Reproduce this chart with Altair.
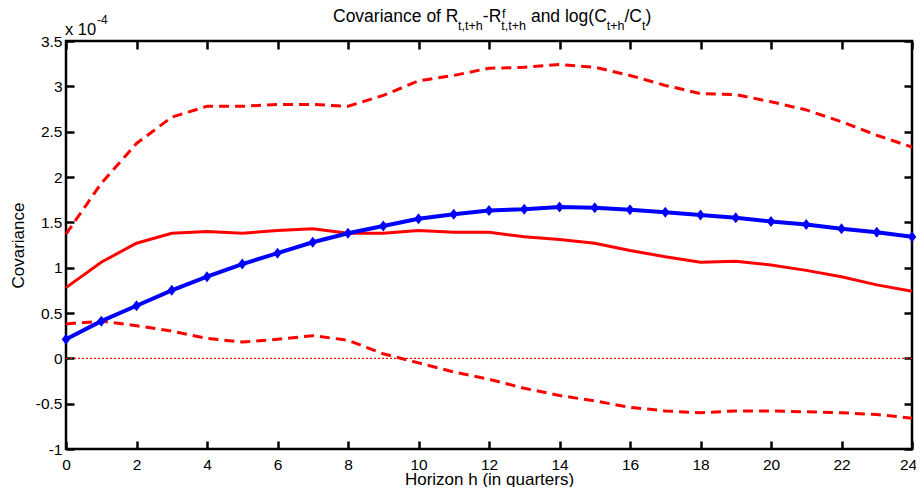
import altair as alt
import pandas as pd

# ---- data (covariance in units of 1e-4) ----
horizon = list(range(25))
model_cov = [0.21, 0.41, 0.58, 0.75, 0.90, 1.04, 1.16, 1.28, 1.38, 1.46, 1.54, 1.59, 1.63,
             1.645, 1.67, 1.66, 1.64, 1.61, 1.58, 1.55, 1.51, 1.475, 1.43, 1.39, 1.34]
data_cov = [0.78, 1.06, 1.27, 1.38, 1.40, 1.38, 1.41, 1.43, 1.38, 1.38, 1.41, 1.39, 1.39,
            1.34, 1.31, 1.27, 1.19, 1.12, 1.06, 1.07, 1.03, 0.97, 0.90, 0.81, 0.74]
upper_band = [1.37, 1.93, 2.37, 2.66, 2.78, 2.78, 2.80, 2.80, 2.78, 2.90, 3.06, 3.12, 3.20,
              3.21, 3.24, 3.21, 3.12, 3.01, 2.92, 2.91, 2.83, 2.74, 2.61, 2.46, 2.33]
lower_band = [0.38, 0.41, 0.36, 0.30, 0.22, 0.18, 0.21, 0.25, 0.20, 0.05, -0.05, -0.15, -0.23,
              -0.33, -0.41, -0.47, -0.54, -0.58, -0.60, -0.58, -0.58, -0.59, -0.60, -0.62, -0.66]
zero_line = [0.0] * len(horizon)

x_ticks = list(range(0, 25, 2))
y_ticks = [-1, -0.5, 0, 0.5, 1, 1.5, 2, 2.5, 3, 3.5]

FONT = "Liberation Sans"
W, H = 846, 408
LEFT, TOP = 58, 33          # plot area offset inside the svg
RED, BLUE = "#ff0000", "#0000ff"

xs = alt.Scale(domain=[0, 24], nice=False, zero=False)
ys = alt.Scale(domain=[-1, 3.5], nice=False, zero=False)


def frame(values):
    return pd.DataFrame({"h": horizon, "v": values})


def tick_axis(orient, offset, vals):
    return alt.Axis(orient=orient, offset=offset, values=vals, labels=False, title=None,
                    domain=False, grid=False, ticks=True, tickSize=8, tickWidth=2.5,
                    tickColor="black")


main_x = alt.Axis(orient="bottom", values=x_ticks, tickSize=0, domain=False, grid=False,
                  labelFont=FONT, labelFontSize=15.5, labelColor="black", labelPadding=8,
                  labelFlush=False, labelOverlap=False,
                  labelOffset={"condition": {"test": "datum.value == 24", "value": -4},
                               "value": 0},
                  title="Horizon h (in quarters)", titleFont=FONT, titleFontSize=17,
                  titleFontWeight="normal", titleColor="black", titleY=35,
                  titleBaseline="alphabetic")
main_y = alt.Axis(orient="left", values=y_ticks, tickSize=0, domain=False, grid=False,
                  labelFont=FONT, labelFontSize=15.5, labelColor="black", labelPadding=4,
                  labelExpr="'' + datum.value", labelOverlap=False, labelFlush=False,
                  title="Covariance", titleFont=FONT, titleFontSize=17,
                  titleFontWeight="normal", titleColor="black", titleAngle=270,
                  titleX=-43, titleY=H / 2, titleAlign="center", titleBaseline="alphabetic")

upper = alt.Chart(frame(upper_band)).mark_line(
    color=RED, strokeWidth=3, strokeDash=[10, 6], clip=False
).encode(x=alt.X("h:Q", scale=xs, axis=main_x), y=alt.Y("v:Q", scale=ys, axis=main_y))

lower = alt.Chart(frame(lower_band)).mark_line(
    color=RED, strokeWidth=3, strokeDash=[10, 6], clip=False
).encode(x=alt.X("h:Q", scale=xs, axis=tick_axis("top", -H, x_ticks)),
         y=alt.Y("v:Q", scale=ys, axis=tick_axis("right", -W, y_ticks)))

solid = alt.Chart(frame(data_cov)).mark_line(
    color=RED, strokeWidth=3, clip=False
).encode(x=alt.X("h:Q", scale=xs, axis=tick_axis("bottom", -H, x_ticks)),
         y=alt.Y("v:Q", scale=ys, axis=tick_axis("left", -W, y_ticks)))

zero = alt.Chart(frame(zero_line)).mark_line(
    color=RED, strokeWidth=1.3, strokeDash=[2, 2]
).encode(x=alt.X("h:Q", scale=xs, axis=None), y=alt.Y("v:Q", scale=ys, axis=None))

blue_line = alt.Chart(frame(model_cov)).mark_line(
    color=BLUE, strokeWidth=4, clip=False
).encode(x=alt.X("h:Q", scale=xs, axis=None), y=alt.Y("v:Q", scale=ys, axis=None))

blue_pts = alt.Chart(frame(model_cov)).mark_point(
    shape="M0,-1.1L0.85,0L0,1.1L-0.85,0Z", size=100, filled=True, color=BLUE,
    opacity=1, clip=False
).encode(x=alt.X("h:Q", scale=xs, axis=None), y=alt.Y("v:Q", scale=ys, axis=None))

# ---- title and exponent pieces: (text, font size, page x, page baseline y) ----
title_parts = [
    ("Covariance of R", 17.5, 333.0, 22.0),
    ("t,t+h", 12.5, 458.1, 29.5),
    ("-R", 17.5, 482.8, 22.0),
    ("f", 12.5, 502.0, 17.5),
    ("t,t+h", 12.5, 501.3, 29.5),
    ("and log(C", 17.5, 530.9, 22.0),
    ("t+h", 12.5, 606.7, 29.5),
    ("/C", 17.5, 624.4, 22.0),
    ("t", 12.5, 641.9, 29.5),
    (")", 17.5, 645.4, 22.0),
    ("x 10", 16.5, 65.0, 35.3),
    ("-4", 12, 97.0, 23.5),
]

texts = []
for txt, fs, px, py in title_parts:
    texts.append(
        alt.Chart(pd.DataFrame({"a": [0]})).mark_text(
            align="left", baseline="alphabetic", font=FONT, fontSize=fs, color="black"
        ).encode(x=alt.value(px - 8 - LEFT), y=alt.value(py - 8 - TOP), text=alt.value(txt))
    )

chart = alt.layer(
    upper, lower, solid, zero, blue_line, blue_pts, *texts
).resolve_axis(x="independent", y="independent").properties(
    width=W, height=H,
    autosize=alt.AutoSizeParams(type="none"),
    padding={"left": LEFT, "top": TOP, "right": 4, "bottom": 38},
    background="white",
).configure_view(stroke="black", strokeWidth=2.5)

chart.save("out.html", embed_options={"renderer": "svg", "actions": False})
